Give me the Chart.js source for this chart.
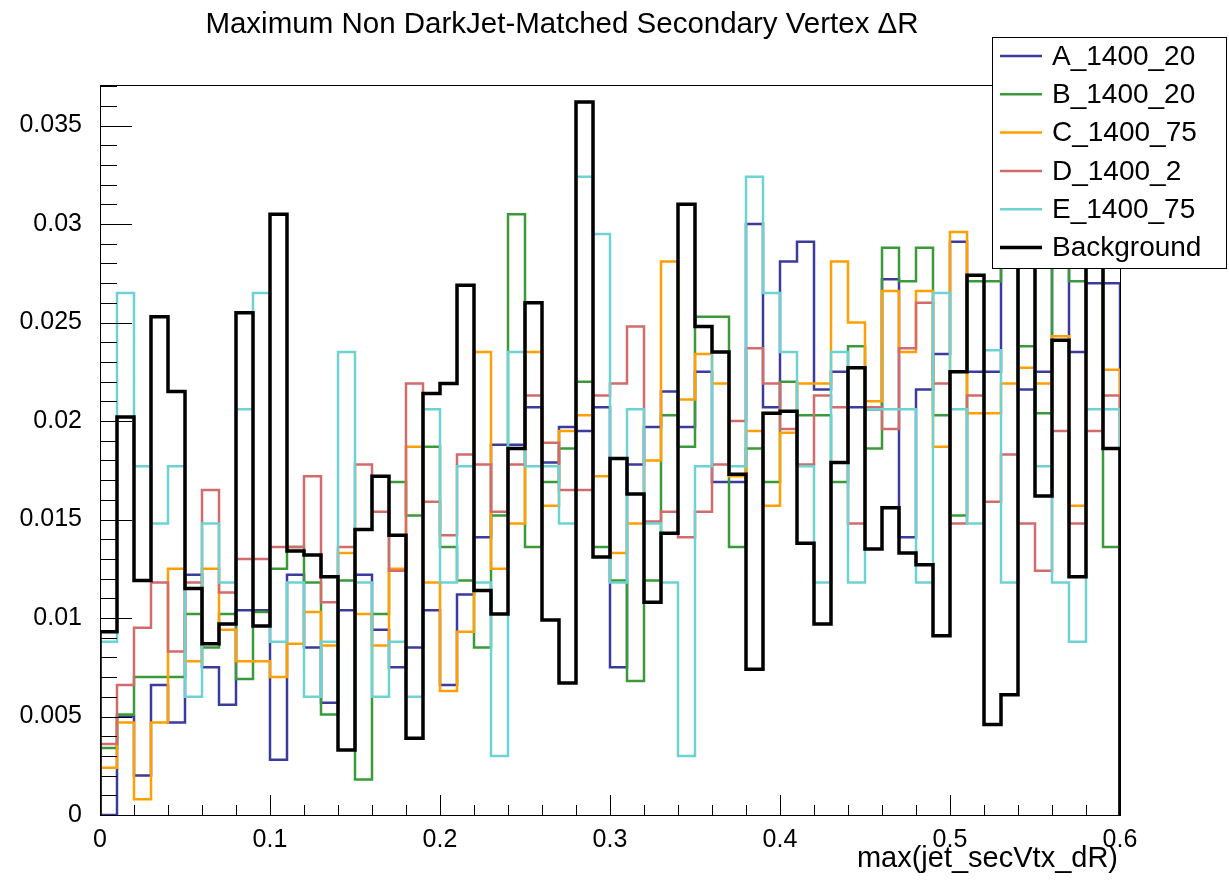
<!DOCTYPE html>
<html>
<head>
<meta charset="utf-8">
<script src="https://cdn.jsdelivr.net/npm/chart.js@4.4.1/dist/chart.umd.min.js"></script>
<style>
  html, body { margin: 0; padding: 0; background: #fff; }
  #wrap { position: relative; width: 1229px; height: 882px; }
</style>
</head>
<body>
<div id="wrap"><canvas id="histo" width="1229" height="882"></canvas></div>
<script>
// bin edges: 60 bins of 0.01 from 0 to 0.6
const binWidth = 0.01;
const nBins = 60;
const seriesNames = ["A_1400_20", "B_1400_20", "C_1400_75", "D_1400_2", "E_1400_75", "Background"];
const yTicks = [0, 0.005, 0.01, 0.015, 0.02, 0.025, 0.03, 0.035];
const xTicks = [0, 0.1, 0.2, 0.3, 0.4, 0.5, 0.6];

const valsA = [0.0000,0.0050,0.0020,0.0066,0.0047,0.0122,0.0075,0.0056,0.0104,0.0104,
  0.0028,0.0122,0.0085,0.0057,0.0104,0.0122,0.0094,0.0075,0.0085,0.0104,
  0.0066,0.0112,0.0141,0.0188,0.0188,0.0207,0.0179,0.0197,0.0195,0.0207,
  0.0075,0.0178,0.0197,0.0215,0.0197,0.0225,0.0169,0.0169,0.0300,0.0207,
  0.0281,0.0291,0.0216,0.0225,0.0207,0.0206,0.0272,0.0141,0.0216,0.0234,
  0.0291,0.0225,0.0225,0.0300,0.0216,0.0225,0.0290,0.0235,0.0270,0.0270];
const valsB = [0.0034,0.0051,0.0070,0.0070,0.0070,0.0102,0.0085,0.0102,0.0069,0.0103,
  0.0125,0.0136,0.0118,0.0051,0.0119,0.0018,0.0102,0.0169,0.0152,0.0187,
  0.0136,0.0119,0.0085,0.0152,0.0305,0.0136,0.0169,0.0186,0.0220,0.0136,
  0.0119,0.0068,0.0119,0.0203,0.0187,0.0253,0.0253,0.0136,0.0186,0.0169,
  0.0220,0.0203,0.0203,0.0169,0.0238,0.0186,0.0288,0.0271,0.0288,0.0203,
  0.0152,0.0271,0.0271,0.0300,0.0238,0.0204,0.0300,0.0271,0.0290,0.0136];
const valsC = [0.0024,0.0047,0.0008,0.0047,0.0125,0.0078,0.0125,0.0094,0.0078,0.0078,
  0.0070,0.0087,0.0103,0.0086,0.0133,0.0102,0.0086,0.0125,0.0187,0.0118,
  0.0063,0.0093,0.0235,0.0125,0.0148,0.0235,0.0157,0.0195,0.0203,0.0172,
  0.0133,0.0148,0.0180,0.0281,0.0211,0.0234,0.0219,0.0172,0.0195,0.0157,
  0.0194,0.0219,0.0219,0.0281,0.0250,0.0210,0.0266,0.0235,0.0266,0.0187,
  0.0296,0.0204,0.0204,0.0219,0.0227,0.0219,0.0243,0.0157,0.0280,0.0226];
const valsD = [0.0036,0.0066,0.0095,0.0118,0.0083,0.0118,0.0165,0.0113,0.0130,0.0130,
  0.0136,0.0136,0.0172,0.0108,0.0136,0.0178,0.0154,0.0124,0.0219,0.0159,
  0.0142,0.0183,0.0178,0.0154,0.0178,0.0213,0.0189,0.0165,0.0165,0.0213,
  0.0219,0.0248,0.0149,0.0154,0.0141,0.0154,0.0178,0.0200,0.0237,0.0219,
  0.0196,0.0178,0.0213,0.0207,0.0148,0.0207,0.0196,0.0237,0.0260,0.0219,
  0.0148,0.0213,0.0159,0.0183,0.0148,0.0124,0.0195,0.0148,0.0195,0.0213];
const valsE = [0.0088,0.0265,0.0177,0.0148,0.0177,0.0060,0.0148,0.0118,0.0206,0.0265,
  0.0088,0.0118,0.0060,0.0088,0.0235,0.0118,0.0060,0.0088,0.0060,0.0206,
  0.0118,0.0177,0.0118,0.0030,0.0235,0.0177,0.0177,0.0148,0.0324,0.0295,
  0.0118,0.0206,0.0148,0.0118,0.0030,0.0177,0.0235,0.0177,0.0324,0.0265,
  0.0235,0.0177,0.0118,0.0235,0.0118,0.0206,0.0206,0.0206,0.0118,0.0265,
  0.0206,0.0148,0.0236,0.0118,0.0295,0.0177,0.0118,0.0088,0.0206,0.0206];
const valsBkg = [0.0093,0.0202,0.0119,0.0253,0.0215,0.0115,0.0087,0.0097,0.0255,0.0096,
  0.0305,0.0134,0.0132,0.0121,0.0033,0.0145,0.0172,0.0142,0.0039,0.0214,
  0.0219,0.0269,0.0114,0.0102,0.0186,0.0260,0.0099,0.0067,0.0362,0.0131,
  0.0181,0.0163,0.0108,0.0143,0.0310,0.0248,0.0235,0.0173,0.0074,0.0204,
  0.0205,0.0138,0.0097,0.0179,0.0227,0.0135,0.0156,0.0133,0.0127,0.0091,
  0.0225,0.0274,0.0046,0.0061,0.0320,0.0162,0.0241,0.0121,0.0310,0.0186];

const colors = ["#3b3b9d", "#3a9a3a", "#ff9f00", "#d26b6b", "#6fd2d2", "#000000"];
const widths = [2.5, 2.5, 2.5, 2.5, 2.5, 3.5];
const allVals = [valsA, valsB, valsC, valsD, valsE, valsBkg];

// histogram outline: left edge of each bin, then close at the last edge
function histPoints(vals) {
  const pts = [{ x: 0, y: 0 }];
  vals.forEach((v, i) => pts.push({ x: +(i * binWidth).toFixed(2), y: v }));
  pts.push({ x: +(nBins * binWidth).toFixed(2), y: vals[vals.length - 1] });
  pts.push({ x: +(nBins * binWidth).toFixed(2), y: 0 });
  return pts;
}

const datasets = seriesNames.map((name, i) => ({
  label: name,
  data: histPoints(allVals[i]),
  borderColor: colors[i],
  borderWidth: widths[i],
  stepped: 'before',
  pointRadius: 0,
  fill: false,
  order: seriesNames.length - 1 - i
}));

const FONT = '"Liberation Sans", Arial, Helvetica, sans-serif';

const rootFrame = {
  id: 'rootFrame',
  afterDraw(chart) {
    const ctx = chart.ctx;
    const a = chart.chartArea;
    const xs = chart.scales.x, ys = chart.scales.y;
    ctx.save();
    ctx.strokeStyle = '#000';
    ctx.lineWidth = 1;
    // frame
    ctx.strokeRect(a.left + 0.5, a.top + 0.5, a.right - a.left, a.bottom - a.top);
    // inner ticks on y
    ctx.beginPath();
    for (let k = 0; k <= 37; k++) {
      const v = k * 0.001;
      if (v > ys.max) break;
      const py = Math.round(ys.getPixelForValue(v)) + 0.5;
      const len = (k % 5 === 0) ? 32 : 17;
      ctx.moveTo(a.left, py);
      ctx.lineTo(a.left + len, py);
    }
    // inner ticks on x
    for (let k = 0; k <= 30; k++) {
      const v = k * 0.02;
      const px = Math.round(xs.getPixelForValue(v)) + 0.5;
      const len = (k % 5 === 0) ? 20 : 10;
      ctx.moveTo(px, a.bottom);
      ctx.lineTo(px, a.bottom - len);
    }
    ctx.stroke();

    // title
    ctx.fillStyle = '#000';
    ctx.font = '29.5px ' + FONT;
    ctx.textAlign = 'center';
    ctx.textBaseline = 'alphabetic';
    ctx.fillText('Maximum Non DarkJet-Matched Secondary Vertex \u0394R', 562, 33);

    // x axis title
    ctx.font = '29px ' + FONT;
    ctx.textAlign = 'right';
    ctx.fillText('max(jet_secVtx_dR)', a.right - 2, 867);

    // legend box
    const lx = 992, ly = 37, lw = 234, lh = 231;
    ctx.fillStyle = '#fff';
    ctx.fillRect(lx, ly, lw, lh);
    ctx.strokeRect(lx + 0.5, ly + 0.5, lw, lh);
    ctx.font = '28px ' + FONT;
    ctx.textAlign = 'left';
    ctx.textBaseline = 'middle';
    seriesNames.forEach((name, i) => {
      const yy = 56 + i * 38.3;
      ctx.strokeStyle = colors[i];
      ctx.lineWidth = widths[i];
      ctx.beginPath();
      ctx.moveTo(1000, yy);
      ctx.lineTo(1042, yy);
      ctx.stroke();
      ctx.fillStyle = '#000';
      ctx.fillText(name, 1052, yy + 1);
    });
    ctx.restore();
  }
};

new Chart(document.getElementById('histo'), {
  type: 'line',
  data: { datasets: datasets },
  options: {
    responsive: false,
    animation: false,
    layout: { padding: { top: 85, right: 109, left: 0, bottom: 0 } },
    plugins: { legend: { display: false }, title: { display: false }, tooltip: { enabled: false } },
    scales: {
      x: {
        type: 'linear',
        min: 0,
        max: 0.6,
        afterFit: s => { s.height = 67; },
        grid: { display: false },
        border: { display: true, color: '#000', width: 1 },
        ticks: {
          stepSize: 0.1,
          includeBounds: false,
          maxRotation: 0,
          color: '#000',
          padding: 2,
          font: { family: FONT, size: 25 },
          callback: v => Number(v.toFixed(2)).toString()
        }
      },
      y: {
        type: 'linear',
        min: 0,
        max: 0.03706,
        afterFit: s => { s.width = 100; },
        grid: { display: false },
        border: { display: true, color: '#000', width: 1 },
        ticks: {
          stepSize: 0.005,
          includeBounds: false,
          color: '#000',
          padding: 10,
          font: { family: FONT, size: 25 },
          callback: v => Number(v.toFixed(3)).toString()
        }
      }
    }
  },
  plugins: [rootFrame]
});
</script>
</body>
</html>
